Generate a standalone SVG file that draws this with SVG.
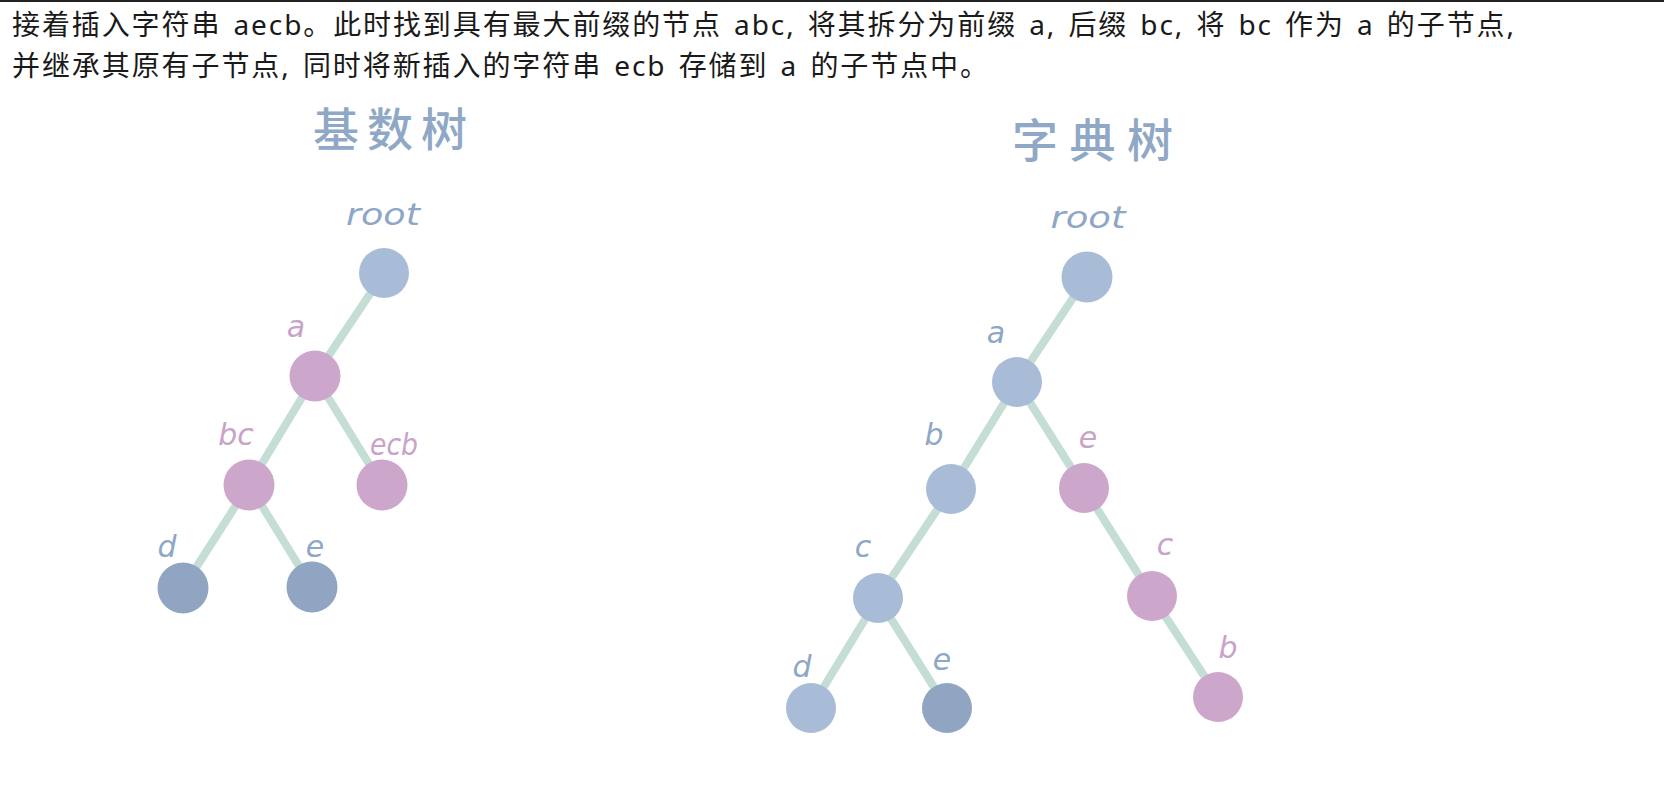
<svg xmlns="http://www.w3.org/2000/svg" width="1664" height="811" viewBox="0 0 1664 811">
<style>
.bg{fill:#ffffff}
.cap{font-family:"Noto Sans","Noto Sans CJK SC",sans-serif;font-size:28px;fill:#1a1a1a;word-spacing:3px}
.title{font-family:"Noto Sans CJK SC",sans-serif;font-size:46px;fill:#8fa8c6;font-weight:500}
.lb{font-family:"DejaVu Sans","Noto Sans",sans-serif;font-size:30px;font-style:italic;text-anchor:middle}
.lblue{fill:#8ea7c6}
.lpink{fill:#c9a2c8}
.edge{stroke:#c4ddd5;stroke-width:8;stroke-linecap:round;fill:none}
.nb{fill:#a8bcd7}
.np{fill:#cda6cb}
.nd{fill:#8fa5c2}
</style>
<rect class="bg" x="0" y="0" width="1664" height="811"/>
<line x1="0" y1="1" x2="1664" y2="1" stroke="#222" stroke-width="2"/>
<g id="caption">
<text class="cap" x="12" y="35" textLength="1502" lengthAdjust="spacing">接着插入字符串 aecb。此时找到具有最大前缀的节点 abc, 将其拆分为前缀 a, 后缀 bc, 将 bc 作为 a 的子节点,</text>
<text class="cap" x="12" y="76" textLength="976" lengthAdjust="spacing">并继承其原有子节点, 同时将新插入的字符串 ecb 存储到 a 的子节点中。</text>
</g>
<g id="titles">
<text class="title" x="313" y="146" textLength="154" lengthAdjust="spacing">基数树</text>
<text class="title" x="1012" y="157" textLength="161" lengthAdjust="spacing">字典树</text>
</g>
<g id="connectors">
<line class="edge" x1="384" y1="273" x2="315" y2="376"/>
<line class="edge" x1="315" y1="376" x2="249" y2="485"/>
<line class="edge" x1="315" y1="376" x2="382" y2="485"/>
<line class="edge" x1="249" y1="485" x2="183" y2="588"/>
<line class="edge" x1="249" y1="485" x2="312" y2="587"/>
<line class="edge" x1="1087" y1="277" x2="1017" y2="382"/>
<line class="edge" x1="1017" y1="382" x2="951" y2="489"/>
<line class="edge" x1="1017" y1="382" x2="1084" y2="488"/>
<line class="edge" x1="951" y1="489" x2="878" y2="598"/>
<line class="edge" x1="878" y1="598" x2="811" y2="708"/>
<line class="edge" x1="878" y1="598" x2="947" y2="708"/>
<line class="edge" x1="1084" y1="488" x2="1152" y2="596"/>
<line class="edge" x1="1152" y1="596" x2="1218" y2="697"/>
</g>
<g id="radix-root"><circle class="nb" cx="384" cy="273" r="25"/><text class="lb lblue" x="383" y="225" textLength="74" lengthAdjust="spacingAndGlyphs">root</text></g>
<g id="radix-a"><circle class="np" cx="315" cy="376" r="25.5"/><text class="lb lpink" x="296" y="337">a</text></g>
<g id="radix-bc"><circle class="np" cx="249" cy="485" r="25.5"/><text class="lb lpink" x="236" y="445">bc</text></g>
<g id="radix-ecb"><circle class="np" cx="382" cy="485" r="25.5"/><text class="lb lpink" x="394" y="455" textLength="48" lengthAdjust="spacingAndGlyphs">ecb</text></g>
<g id="radix-d"><circle class="nd" cx="183" cy="588" r="25.5"/><text class="lb lblue" x="167" y="557">d</text></g>
<g id="radix-e"><circle class="nd" cx="312" cy="587" r="25.5"/><text class="lb lblue" x="315" y="557">e</text></g>
<g id="trie-root"><circle class="nb" cx="1087" cy="277" r="25.5"/><text class="lb lblue" x="1088" y="228" textLength="75" lengthAdjust="spacingAndGlyphs">root</text></g>
<g id="trie-a"><circle class="nb" cx="1017" cy="382" r="25"/><text class="lb lblue" x="996" y="343">a</text></g>
<g id="trie-b"><circle class="nb" cx="951" cy="489" r="25"/><text class="lb lblue" x="934" y="445">b</text></g>
<g id="trie-e"><circle class="np" cx="1084" cy="488" r="25"/><text class="lb lpink" x="1088" y="448">e</text></g>
<g id="trie-c"><circle class="nb" cx="878" cy="598" r="25"/><text class="lb lblue" x="863" y="557">c</text></g>
<g id="trie-c2"><circle class="np" cx="1152" cy="596" r="25"/><text class="lb lpink" x="1165" y="555">c</text></g>
<g id="trie-d"><circle class="nb" cx="811" cy="708" r="25"/><text class="lb lblue" x="802" y="677">d</text></g>
<g id="trie-e2"><circle class="nd" cx="947" cy="708" r="25"/><text class="lb lblue" x="942" y="670">e</text></g>
<g id="trie-b2"><circle class="np" cx="1218" cy="697" r="25"/><text class="lb lpink" x="1228" y="658">b</text></g>
</svg>
